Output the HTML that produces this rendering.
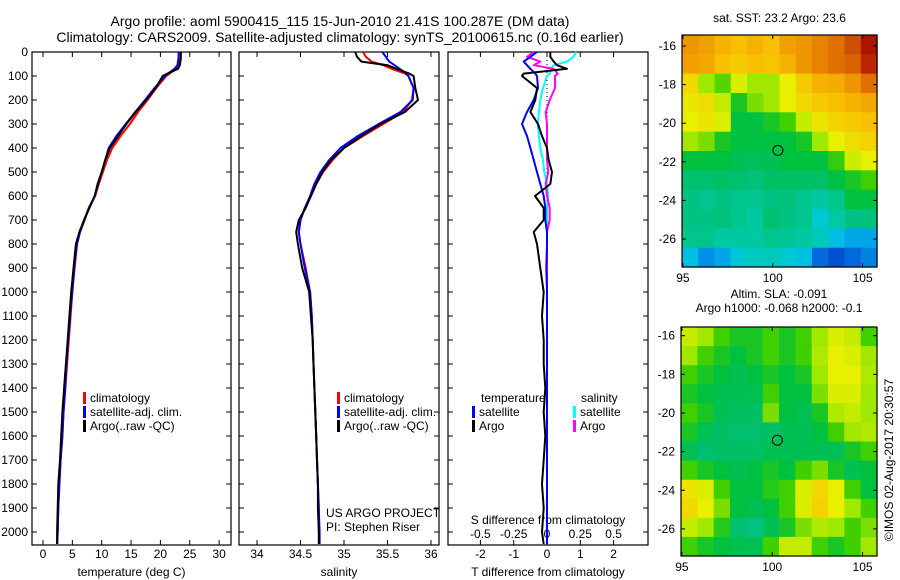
<!DOCTYPE html>
<html><head><meta charset="utf-8"><style>
body{margin:0;background:#fff;}
svg{display:block;font-family:"Liberation Sans",sans-serif;}
</style></head><body>
<svg id="c" width="900" height="580" viewBox="0 0 900 580"></svg>
<script>
const depth=[0,20,40,55,70,90,100,150,200,250,300,350,400,450,500,550,600,650,700,750,800,900,1000,1100,1200,1300,1400,1500,1600,1700,1800,1900,2000,2050];
const tempArgo=[23.5,23.5,23.4,23.3,23.0,21.2,20.4,19.2,17.6,15.8,14.2,12.8,11.4,10.6,10.0,9.3,8.8,7.9,7.0,6.2,5.6,5.2,4.8,4.5,4.2,3.9,3.6,3.3,3.1,2.9,2.6,2.5,2.4,2.4];
const tempClim=[23.3,23.3,23.3,23.2,22.6,21.6,21.0,19.3,17.8,16.2,14.8,13.2,11.8,10.9,10.2,9.5,8.9,7.8,7.1,6.3,5.8,5.4,5.0,4.7,4.4,4.1,3.8,3.5,3.3,3.0,2.8,2.6,2.5,2.4];
const tempSat=[23.1,23.1,23.0,22.9,22.4,21.3,20.8,19.0,17.4,15.7,14.1,12.5,11.2,10.6,10.0,9.4,8.8,7.8,7.0,6.3,5.8,5.3,5.0,4.6,4.3,4.0,3.8,3.5,3.3,3.0,2.8,2.6,2.5,2.4];
const salArgo=[35.13,35.15,35.2,35.5,35.6,35.75,35.8,35.82,35.85,35.7,35.42,35.2,35.0,34.85,34.75,34.68,34.62,34.56,34.48,34.45,34.47,34.52,34.6,34.62,34.64,34.65,34.66,34.67,34.68,34.69,34.7,34.7,34.71,34.71];
const salClim=[35.22,35.25,35.32,35.45,35.55,35.7,35.74,35.8,35.78,35.68,35.45,35.22,35.0,34.87,34.76,34.68,34.62,34.55,34.5,34.48,34.5,34.56,34.61,34.63,34.64,34.65,34.66,34.67,34.68,34.69,34.7,34.71,34.71,34.72];
const salSat=[35.44,35.48,35.52,35.58,35.64,35.72,35.74,35.8,35.79,35.65,35.4,35.16,34.96,34.83,34.73,34.66,34.61,34.55,34.5,34.48,34.5,34.55,34.61,34.63,34.64,34.65,34.66,34.67,34.68,34.69,34.7,34.71,34.72,34.72];
const tDiffArgo=[0.1,0.1,0.2,0.3,0.6,-0.7,-0.75,-0.3,-0.35,-0.5,-0.27,-0.15,0,0.05,0.15,0.1,-0.36,-0.1,-0.1,-0.4,-0.3,-0.2,-0.1,-0.15,-0.1,-0.1,-0.05,-0.1,-0.05,-0.1,-0.15,-0.1,-0.15,-0.1];
const tDiffSat=[-0.3,-0.5,-0.7,-0.6,-0.5,-0.35,-0.3,-0.27,-0.4,-0.6,-0.75,-0.6,-0.5,-0.4,-0.3,-0.2,-0.1,-0.05,-0.05,0,0,-0.02,0,0,0,0,0,0,0,0,0,0,0,0];
const sDiffSat=[0.22,0.2,0.15,0.05,0.03,0.02,0,-0.03,-0.05,-0.06,-0.07,-0.06,-0.05,-0.03,-0.02,0,0.01,0,0,0,0,0,0,0,0,0,0,0,0,0,0,0,0,0];
const sDiffArgo=[-0.1,-0.15,-0.05,-0.1,0.05,0.08,0.06,0.06,0.02,-0.01,0,0,0,0,0.01,-0.01,0,0.02,0.02,0,0,0,0,0,0,0,0,0,0,0,0,0,0,0];
const depthTicks=[0,100,200,300,400,500,600,700,800,900,1000,1100,1200,1300,1400,1500,1600,1700,1800,1900,2000];
const tempTicks=[0,5,10,15,20,25,30];
const salTicks=[34,34.5,35,35.5,36];
const tdTicks=[-2,-1,0,1,2];
const sdTicks=[-0.5,-0.25,0,0.25,0.5];
const sstGrid=[
[7.6,7.5,7.2,7,7.2,7,7.5,7.6,7.8,8,8.5,9.6],
[7.5,7.4,7,6.8,7,6.9,7.2,7.6,7.8,8,8.2,9.2],
[6.5,5,4.6,5.8,5,5,6,6.8,7.2,7.3,7.6,8],
[6.2,6.4,5.5,4.2,4.8,5,6,6.5,6.8,7,7.2,7.4],
[6,6.2,5.8,4,4,4.2,4.5,5.5,6.3,6.6,6.8,7],
[5,4.8,4.2,4,4,4,4,4.2,5,6,6.4,6.6],
[4,4,4,3.8,3.7,3.8,4,4,4,4.4,5.6,6],
[3.5,3.5,3.6,3.5,3.4,3.6,3.6,3.6,3.6,4,4.2,4.5],
[3.3,3.2,3.3,3.2,3.2,3.3,3.4,3.2,3,3.2,4,4],
[3.3,3.3,3.4,3.2,3,3.5,3.3,3.2,2.6,3,3.3,3.4],
[3.2,3.2,3,3,3,3.2,3.1,3,2.8,2.4,2.2,2.2],
[2.4,2,2.2,2.6,2.8,2.8,2.6,2.4,1.4,1,1.4,1.8]];
const slaGrid=[
[5.5,5,4.5,4.2,4.2,4.5,4.2,4.5,5,5.8,5.5,4.5],
[5,4.5,4.2,4,4.2,4.5,4.2,4.5,5.2,6,5.8,5],
[4.5,4.2,4,3.8,4,4.2,4,4.2,5,6,6,5.2],
[4.2,4,3.8,3.8,3.8,4.5,4,4,4.8,5.8,5.8,5],
[4.5,4.2,3.8,3.7,3.6,4.8,4,3.8,4.2,5.2,5.5,5],
[4.2,3.8,3.6,3.5,3.5,3.6,3.8,3.8,4,4.5,5,5.2],
[3.8,3.5,3.6,3.6,3.6,3.8,3.8,3.8,3.8,3.8,4.2,4.5],
[4.5,4.2,4,3.8,4,4.2,4,4.5,4.8,4.2,3.8,4],
[6.3,5.8,4.5,4,4,4.3,4.5,5.8,6.5,6,4.5,4],
[6.5,6,4.8,4,3.8,4,4.5,5.8,6.6,6,5,4.5],
[5.5,5,4.3,3.5,3.3,3.8,4.2,4.8,5.2,5,4.5,4.8],
[4.5,4.2,4,3.8,3.8,4.5,5.5,5.5,4.5,4.2,4.5,5]];
const lonTicks=[95,100,105];
const latTicks=[-16,-18,-20,-22,-24,-26];

const S=document.getElementById('c');const NS='http://www.w3.org/2000/svg';
function mk(t,a,p){const e=document.createElementNS(NS,t);for(const k in a)e.setAttribute(k,a[k]);(p||S).appendChild(e);return e;}
function txt(x,y,s,anchor,size,extra){const e=mk('text',Object.assign({x:x,y:y,'font-size':size||12,'text-anchor':anchor||'start',fill:'#000'},extra||{}));e.textContent=s;return e;}
const Y=d=>52+d*0.24;
const PT=52,PB=545;
function panel(name,x0,x1,xs,xt,xlabels,title){
  const g=mk('g',{});
  
  
  mk('rect',{x:x0,y:PT,width:x1-x0,height:PB-PT,fill:'none',stroke:'#000','stroke-width':1.2},g);
  xt.forEach((v,i)=>{const x=xs(v);mk('line',{x1:x,x2:x,y1:PB,y2:PB-5,stroke:'#000'},g);mk('line',{x1:x,x2:x,y1:PT,y2:PT+5,stroke:'#000'},g);
    if(xlabels){const t=txt(x,558,xlabels[i],'middle',12);}});
  depthTicks.forEach(d=>{mk('line',{x1:x0,x2:x0+5,y1:Y(d),y2:Y(d),stroke:'#000'},g);mk('line',{x1:x1,x2:x1-5,y1:Y(d),y2:Y(d),stroke:'#000'},g);});
  if(title){const t=txt((x0+x1)/2,576,title,'middle',12);}
  return g;
}
function line(vals,xs,color,name,w){
  const p=vals.map((v,i)=>xs(v).toFixed(1)+','+Y(depth[i]).toFixed(1)).join(' ');
  const e=mk('polyline',{points:p,fill:'none',stroke:color,'stroke-width':w||2,'stroke-linejoin':'round'});
  
  
}
// titles
let t=txt(340,26,'Argo profile: aoml 5900415_115 15-Jun-2010 21.41S 100.287E (DM data)','middle',14);


t=txt(340,42,'Climatology: CARS2009. Satellite-adjusted climatology: synTS_20100615.nc (0.16d earlier)','middle',14);


// depth labels
depthTicks.forEach(d=>{const e=txt(28,Y(d)+4,String(d),'end',12);});

// panel 1
const xT=v=>43+v*5.87;
panel('temperature-panel',32,231,xT,tempTicks,tempTicks.map(String),'temperature (deg C)');
line(tempClim,xT,'#f00','climatology-temp-line');
line(tempSat,xT,'#00f','satellite-temp-line');
line(tempArgo,xT,'#000','argo-temp-line');
function legend(x,y,items,name){
  const g=mk('g',{});
  items.forEach((it,i)=>{mk('rect',{x:x,y:y+i*14-10,width:3,height:12,fill:it[1]},g);const e=txt(x+7,y+i*14,it[0],'start',12);g.appendChild(e);});
}
legend(83,402,[['climatology','#f00'],['satellite-adj. clim.','#00f'],['Argo(..raw -QC)','#000']],'temperature-legend');
// panel 2
const xS=v=>257+(v-34)*87;
panel('salinity-panel',239,439,xS,salTicks,['34','34.5','35','35.5','36'],'salinity');
line(salClim,xS,'#f00','climatology-sal-line');
line(salSat,xS,'#00f','satellite-sal-line');
line(salArgo,xS,'#000','argo-sal-line');
legend(337,402,[['climatology','#f00'],['satellite-adj. clim.','#00f'],['Argo(..raw -QC)','#000']],'salinity-legend');
t=txt(326,517,'US ARGO PROJECT','start',12);
t=txt(326,531,'PI: Stephen Riser','start',12);
// panel 3
const xD=v=>547+v*33.3;
const xSD=v=>547+v*4*33.3;
panel('difference-panel',448,648,xD,tdTicks,['-2','-1','0','1','2'],'T difference from climatology');
sdTicks.forEach(v=>{const e=txt(xSD(v),538,String(v),'middle',12);});
t=txt(548,524,'S difference from climatology','middle',12);
let z=mk('line',{x1:547,x2:547,y1:PT,y2:PB,stroke:'#000','stroke-dasharray':'1 3'});

line(sDiffSat,xSD,'#0ff','sal-satellite-diff-line');
line(sDiffArgo,xSD,'#f0f','sal-argo-diff-line');
line(tDiffSat,xD,'#00f','temp-satellite-diff-line');
line(tDiffArgo,xD,'#000','temp-argo-diff-line');
t=txt(481,402,'temperature','start',12);
legend(472,416,[['satellite','#00f'],['Argo','#000']],'temp-diff-legend');
t=txt(581,402,'salinity','start',12);
legend(573,416,[['satellite','#0ff'],['Argo','#f0f']],'sal-diff-legend');

// maps
const stops=[[1,[0,80,208]],[2,[0,144,232]],[2.5,[0,200,224]],[3,[0,200,160]],[3.5,[0,192,112]],[4,[0,192,64]],[4.5,[64,208,0]],[5,[160,232,0]],[6,[232,240,0]],[7,[248,192,0]],[7.5,[240,160,0]],[8,[224,112,0]],[9,[192,48,0]],[10,[160,0,0]]];
function col(v){if(v<=stops[0][0])return 'rgb('+stops[0][1]+')';for(let i=1;i<stops.length;i++){if(v<=stops[i][0]){const a=stops[i-1],b=stops[i],f=(v-a[0])/(b[0]-a[0]);return 'rgb('+a[1].map((c,k)=>Math.round(c+(b[1][k]-c)*f)).join(',')+')';}}return 'rgb(160,0,0)';}
function map(name,grid,x0,x1,y0,y1,latTop,latBot,title1,title2){
  const g=mk('g',{});
  const lx=v=>x0+(v-94.95)/(105.8-94.95)*(x1-x0);
  const ly=v=>y0+(latTop-v)/(latTop-latBot)*(y1-y0);
  const nr=grid.length,nc=grid[0].length,cw=(x1-x0)/nc,ch=(y1-y0)/nr;
  grid.forEach((row,r)=>row.forEach((v,c)=>{const e=mk('rect',{x:(x0+c*cw).toFixed(1),y:(y0+r*ch).toFixed(1),width:(cw+0.6).toFixed(1),height:(ch+0.6).toFixed(1),fill:col(v)},g);
    
    }));
  mk('rect',{x:x0,y:y0,width:x1-x0,height:y1-y0,fill:'none',stroke:'#000','stroke-width':1.2},g);
  lonTicks.forEach(v=>{const x=lx(v);mk('line',{x1:x,x2:x,y1:y1,y2:y1-4,stroke:'#000'},g);mk('line',{x1:x,x2:x,y1:y0,y2:y0+4,stroke:'#000'},g);g.appendChild(txt(x,y1+15,String(v),'middle',12));});
  latTicks.forEach(v=>{const y=ly(v);mk('line',{x1:x0,x2:x0+4,y1:y,y2:y,stroke:'#000'},g);mk('line',{x1:x1,x2:x1-4,y1:y,y2:y,stroke:'#000'},g);g.appendChild(txt(x0-6,y+4,String(v),'end',12));});
  const c=mk('circle',{cx:lx(100.287),cy:ly(-21.41),r:5,fill:'none',stroke:'#000','stroke-width':1},g);
  
  g.appendChild(txt((x0+x1)/2,title2?y0-29:y0-13,title1,'middle',12));
  if(title2)g.appendChild(txt((x0+x1)/2,y0-15,title2,'middle',12));
}
map('sst-map',sstGrid,682,877,35,267,-15.43,-27.45,'sat. SST: 23.2 Argo: 23.6');
map('sla-map',slaGrid,681,877,327,556,-15.55,-27.4,'Altim. SLA: -0.091','Argo h1000: -0.068 h2000: -0.1');
t=txt(0,0,'©IMOS 02-Aug-2017 20:30:57','middle',12,{transform:'translate(893,460) rotate(-90)'});

</script>
</body></html>
